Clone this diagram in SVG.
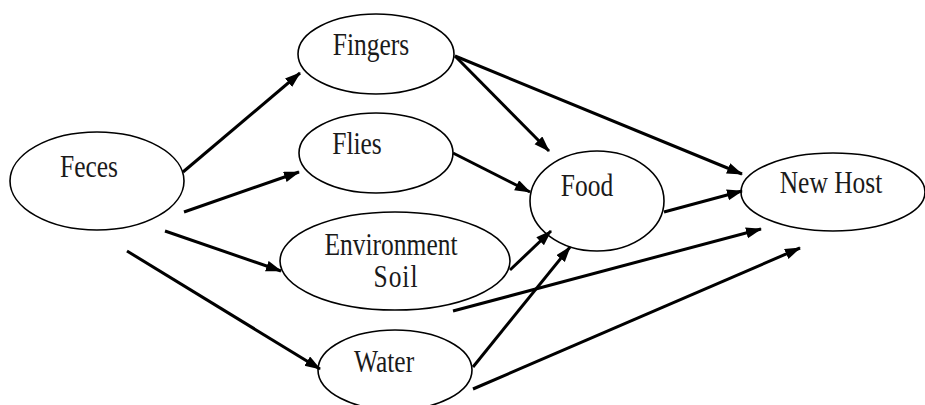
<svg xmlns="http://www.w3.org/2000/svg" width="925" height="405" viewBox="0 0 925 405">
<defs>
<style>
.node ellipse{fill:#fff;stroke:#000;stroke-width:1.6}
.node text{font-family:"Liberation Serif","Times New Roman",serif;font-size:25.5px;fill:#1a1a1a;text-anchor:middle}
.edges line{stroke:#000;stroke-width:3;marker-end:url(#arr)}
</style>
<marker id="arr" markerUnits="userSpaceOnUse" markerWidth="18" markerHeight="12" refX="15" refY="5.5" orient="auto">
<path d="M0,0 L16,5.5 L0,11 z" fill="#000"/>
</marker>
</defs>
<rect width="925" height="405" fill="#fff"/>
<g id="feces" class="node"><ellipse cx="97" cy="181" rx="87" ry="49"/><text transform="translate(89,177) scale(1,1.2)">Feces</text></g>
<g id="fingers" class="node"><ellipse cx="376" cy="54" rx="78" ry="40"/><text transform="translate(371,55) scale(1,1.2)">Fingers</text></g>
<g id="flies" class="node"><ellipse cx="376" cy="153" rx="77" ry="40"/><text transform="translate(357,154) scale(1,1.2)">Flies</text></g>
<g id="environment-soil" class="node"><ellipse cx="395" cy="261" rx="115" ry="49"/><text transform="translate(391,255) scale(1,1.2)">Environment</text><text transform="translate(396,287) scale(1,1.2)" letter-spacing="1">Soil</text></g>
<g id="water" class="node"><ellipse cx="395" cy="370" rx="77" ry="40"/><text transform="translate(384,372) scale(1,1.2)">Water</text></g>
<g id="food" class="node"><ellipse cx="597" cy="201" rx="67" ry="50"/><text transform="translate(587,196) scale(1,1.2)">Food</text></g>
<g id="new-host" class="node"><ellipse cx="833" cy="192" rx="92" ry="39"/><text transform="translate(831,193) scale(1,1.2)">New Host</text></g>
<g id="connectors" class="edges">
<line x1="183" y1="172" x2="300" y2="73"/>
<line x1="184" y1="212" x2="299" y2="172"/>
<line x1="165" y1="231" x2="281" y2="271"/>
<line x1="127" y1="251" x2="320" y2="369"/>
<line x1="455" y1="56" x2="549" y2="151"/>
<line x1="455" y1="56" x2="742" y2="174"/>
<line x1="453" y1="153" x2="530" y2="192"/>
<line x1="664" y1="212" x2="742" y2="191"/>
<line x1="510" y1="270" x2="551" y2="231"/>
<line x1="453" y1="311" x2="761" y2="229"/>
<line x1="473" y1="367" x2="570" y2="247"/>
<line x1="473" y1="389" x2="800" y2="248"/>
</g>
</svg>
